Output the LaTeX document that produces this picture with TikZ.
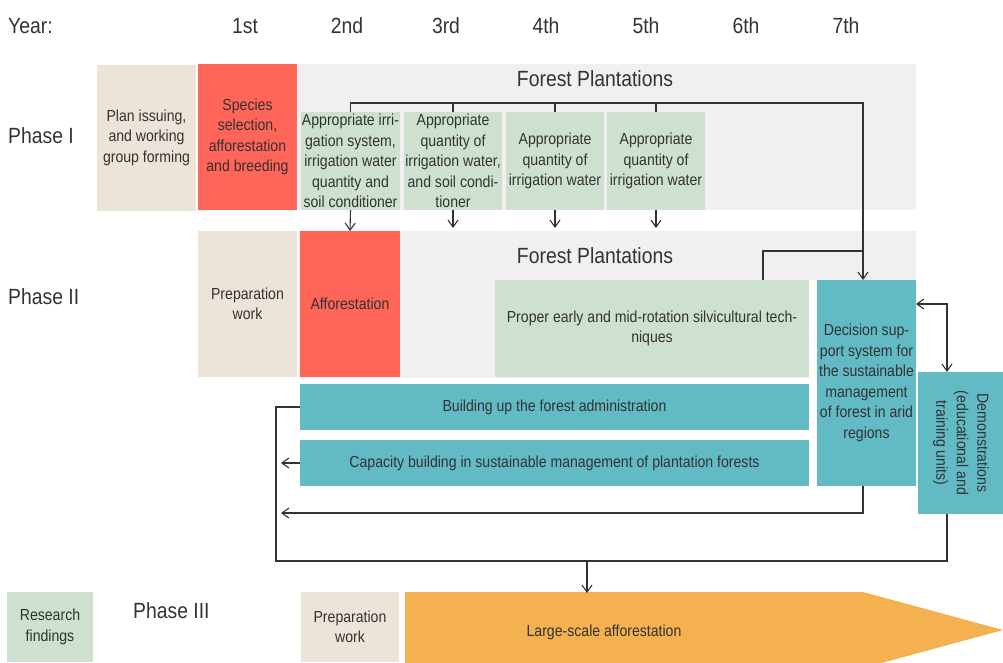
\documentclass[tikz,border=0pt]{standalone}
\usepackage{fontspec}
\setmainfont{Liberation Sans}[FakeStretch=0.88]
\usetikzlibrary{arrows.meta}
\definecolor{bggray}{HTML}{F1EFF0}
\definecolor{beige}{HTML}{EDE4D9}
\definecolor{redbox}{HTML}{FF6558}
\definecolor{greenbox}{HTML}{CEE0CF}
\definecolor{tealbox}{HTML}{62BAC4}
\definecolor{orangebox}{HTML}{F5B050}
\definecolor{txt}{HTML}{333333}
\tikzset{
  box/.style={inner sep=0pt, outer sep=0pt, align=center, text=txt,
    font=\fontsize{16}{20.5}\selectfont},
  bigtxt/.style={inner sep=0pt, text=txt, font=\fontsize{22}{26}\selectfont},
  conn/.style={draw=txt, line width=1.1pt},
  arr/.style={conn, -{Straight Barb[length=7pt,width=10pt,line width=1.1pt]}},
  darr/.style={conn, {Straight Barb[length=7pt,width=10pt,line width=1.1pt]}-{Straight Barb[length=7pt,width=10pt,line width=1.1pt]}},
}
\begin{document}
\begin{tikzpicture}[x=1pt,y=-1pt]
\useasboundingbox (0,0) rectangle (1003,662);
% background gray areas
\fill[bggray] (298,64) rectangle (916,210);
\fill[bggray] (298,231) rectangle (809,378);
\fill[bggray] (298,231) rectangle (916,280);
% year labels
\node[bigtxt, anchor=west] (year) at (8,26) {Year:};
\node[bigtxt] (y1) at (245,26) {1st};
\node[bigtxt] (y2) at (347,26) {2nd};
\node[bigtxt] (y3) at (446,26) {3rd};
\node[bigtxt] (y4) at (546,26) {4th};
\node[bigtxt] (y5) at (646,26) {5th};
\node[bigtxt] (y6) at (746,26) {6th};
\node[bigtxt] (y7) at (846,26) {7th};
% phase labels
\node[bigtxt, anchor=west] (ph1) at (8,136) {Phase I};
\node[bigtxt, anchor=west] (ph2) at (8,297) {Phase II};
\node[bigtxt, anchor=west] (ph3) at (133,611) {Phase III};
% titles
\node[bigtxt] (fp1) at (595,79) {Forest Plantations};
\node[bigtxt] (fp2) at (595,256) {Forest Plantations};
% Phase I boxes
\node[box, fill=beige, minimum width=99pt, minimum height=146pt] (plan) at (146.5,137.5)
  {Plan issuing,\\and working\\group forming};
\node[box, fill=redbox, minimum width=99pt, minimum height=146pt] (species) at (247.5,137)
  {Species\\selection,\\afforestation\\and breeding};
\node[box, fill=greenbox, minimum width=99pt, minimum height=98pt] (g1) at (350.5,161)
  {Appropriate irri-\\gation system,\\irrigation water\\quantity and\\soil conditioner};
\node[box, fill=greenbox, minimum width=98pt, minimum height=98pt] (g2) at (453,161)
  {Appropriate\\quantity of\\irrigation water,\\and soil condi-\\tioner};
\node[box, fill=greenbox, minimum width=98pt, minimum height=98pt] (g3) at (555,161)
  {Appropriate\\quantity of\\irrigation water};
\node[box, fill=greenbox, minimum width=98pt, minimum height=98pt] (g4) at (656,161)
  {Appropriate\\quantity of\\irrigation water};
% Phase II boxes
\node[box, fill=beige, minimum width=99pt, minimum height=146pt] (prep2) at (247.5,304)
  {Preparation\\work};
\node[box, fill=redbox, minimum width=100pt, minimum height=146pt] (affor) at (350,304)
  {Afforestation};
\node[box, fill=greenbox, minimum width=314pt, minimum height=97pt] (proper) at (652,328.5)
  {Proper early and mid-rotation silvicultural tech-\\niques};
\node[box, fill=tealbox, minimum width=99pt, minimum height=206pt] (decision) at (866.5,383)
  {Decision sup-\\port system for\\the sustainable\\management\\of forest in arid\\regions};
\node[box, fill=tealbox, minimum width=85pt, minimum height=142pt] (demo) at (960.5,443) {};
\node[box, rotate=-90] (demotxt) at (961,443)
  {Demonstrations\\(educational and\\training units)};
\node[box, fill=tealbox, minimum width=509pt, minimum height=46pt] (build) at (554.5,407)
  {Building up the forest administration};
\node[box, fill=tealbox, minimum width=509pt, minimum height=46pt] (cap) at (554.5,463)
  {Capacity building in sustainable management of plantation forests};
% Phase III
\node[box, fill=greenbox, minimum width=86pt, minimum height=70pt] (research) at (50,627)
  {Research\\findings};
\node[box, fill=beige, minimum width=98pt, minimum height=70pt] (prep3) at (350,627)
  {Preparation\\work};
\begin{scope}
\clip (0,0) rectangle (1003,662);
\fill[orangebox] (405,592) -- (863,592) -- (1003,630) -- (863,668) -- (405,668) -- cycle;
\end{scope}
\node[box] (large) at (604,632) {Large-scale afforestation};
% connectors
\coordinate (bR) at (863,103);
\coordinate (lgTop) at (587,592);
\coordinate (bend) at (276,561);
\coordinate (demoB) at (947,514);
\draw[arr] (g1.north) |- (bR) -- (bR |- decision.north);
\draw[conn] (g2.north) -- (g2.north |- bR);
\draw[conn] (g3.north) -- (g3.north |- bR);
\draw[conn] (g4.north) -- (g4.north |- bR);
\draw[arr] (g1.south) -- (affor.north);
\draw[arr] (g2.south) -- ++(0,18);
\draw[arr] (g3.south) -- ++(0,18);
\draw[arr] (g4.south) -- ++(0,18);
\draw[conn] (proper.north -| 763,0) |- (863,251);
\draw[darr] (decision.east |- 0,304) -| (947,372);
\draw[conn] (build.west) -| (bend) -- (bend -| demoB) -- (demoB);
\draw[arr] (bend -| lgTop) -- ([yshift=-1pt]lgTop);
\draw[arr] (cap.west) -- (281,463);
\draw[arr] (decision.south -| bR) |- (281,513);
\end{tikzpicture}
\end{document}
